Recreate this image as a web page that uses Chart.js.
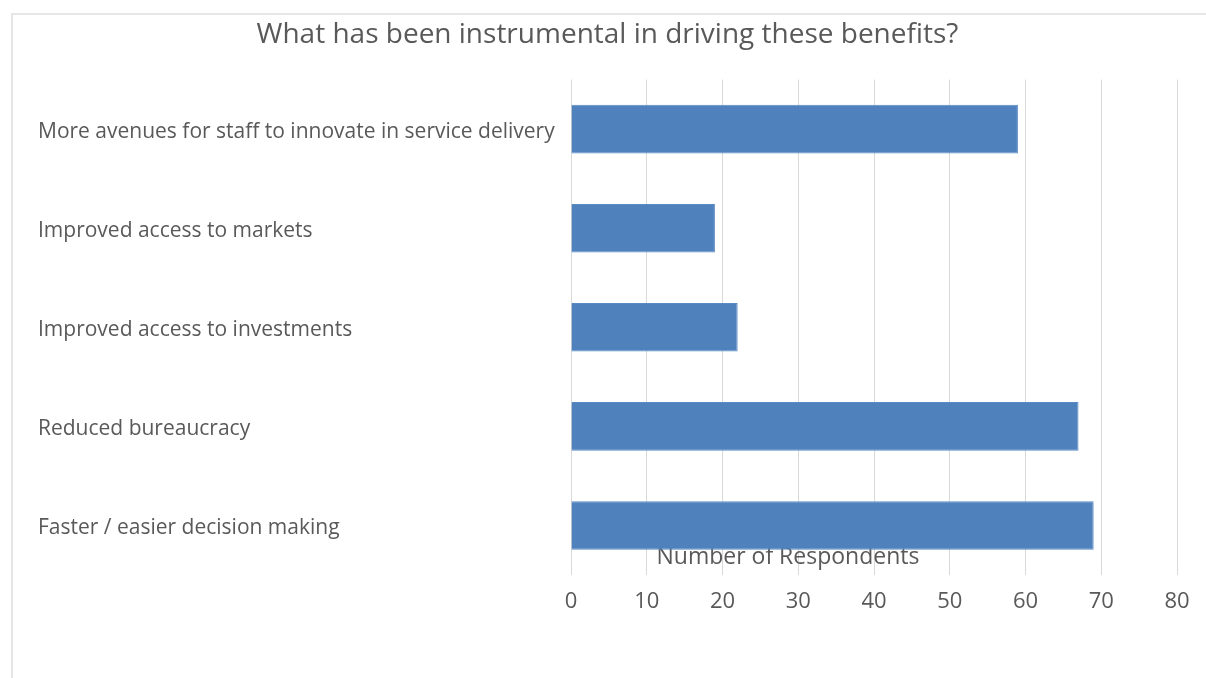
<!DOCTYPE html>
<html>
<head>
<meta charset="utf-8">
<script src="https://cdn.jsdelivr.net/npm/chart.js@4"></script>
<style>
  html, body { margin: 0; padding: 0; background: #fff; }
  #wrap { position: relative; width: 1206px; height: 678px; overflow: hidden; }
  #frame { position: absolute; left: 11px; top: 13px; width: 1200px; height: 670px;
           border-left: 2px solid #e6e6e6; border-top: 2px solid #e6e6e6; }
  canvas { position: absolute; left: 0; top: 0; }
</style>
</head>
<body>
<div id="wrap">
  <div id="frame"></div>
  <canvas id="benefitsChart" width="1206" height="678"></canvas>
</div>
<script>
const categories = [
  "More avenues for staff to innovate in service delivery",
  "Improved access to markets",
  "Improved access to investments",
  "Reduced bureaucracy",
  "Faster / easier decision making"
];
const respondents = [59, 19, 22, 67, 69];
const xTicks = [0, 10, 20, 30, 40, 50, 60, 70, 80];

const textColor = "#595959";
const fontFamily = "'Open Sans', 'Noto Sans', sans-serif";

// Excel puts the axis title just above the tick labels, inside the plot,
// underneath the bars
const axisTitle = {
  id: "axisTitle",
  beforeDatasetsDraw(chart) {
    const { ctx, chartArea } = chart;
    ctx.save();
    ctx.font = "23px " + fontFamily;
    ctx.fillStyle = textColor;
    ctx.textAlign = "center";
    ctx.textBaseline = "middle";
    ctx.fillText("Number of Respondents", chartArea.left + chartArea.width * 0.358, chartArea.bottom - 18);
    ctx.restore();
  }
};

const ctx = document.getElementById("benefitsChart").getContext("2d");
new Chart(ctx, {
  type: "bar",
  data: {
    labels: categories,
    datasets: [{
      data: respondents,
      backgroundColor: "#4f81bd",
      borderColor: "#5a8ac4",
      borderWidth: 1,
      categoryPercentage: 1,
      barPercentage: 0.49
    }]
  },
  options: {
    indexAxis: "y",
    responsive: false,
    animation: false,
    layout: { padding: { left: 38, right: 29, top: 0, bottom: 50 } },
    plugins: {
      legend: { display: false },
      tooltip: { enabled: false },
      title: {
        display: true,
        text: "What has been instrumental in driving these benefits?",
        color: textColor,
        font: { family: fontFamily, size: 28, weight: "normal" },
        padding: { top: 18, bottom: 28 }
      }
    },
    scales: {
      x: {
        min: 0,
        max: 80,
        afterBuildTicks(scale) { scale.ticks = xTicks.map(v => ({ value: v })); },
        afterFit(scale) { scale.height = 53; },
        grid: { color: "#d9d9d9", lineWidth: 1, drawTicks: false },
        border: { display: false },
        ticks: { color: textColor, padding: 14, font: { family: fontFamily, size: 22 } }
      },
      y: {
        afterFit(scale) { scale.width = 533; },
        grid: { display: false },
        border: { display: false },
        ticks: { color: textColor, crossAlign: "far", labelOffset: 3, font: { family: fontFamily, size: 21 } }
      }
    }
  },
  plugins: [axisTitle]
});
</script>
</body>
</html>
